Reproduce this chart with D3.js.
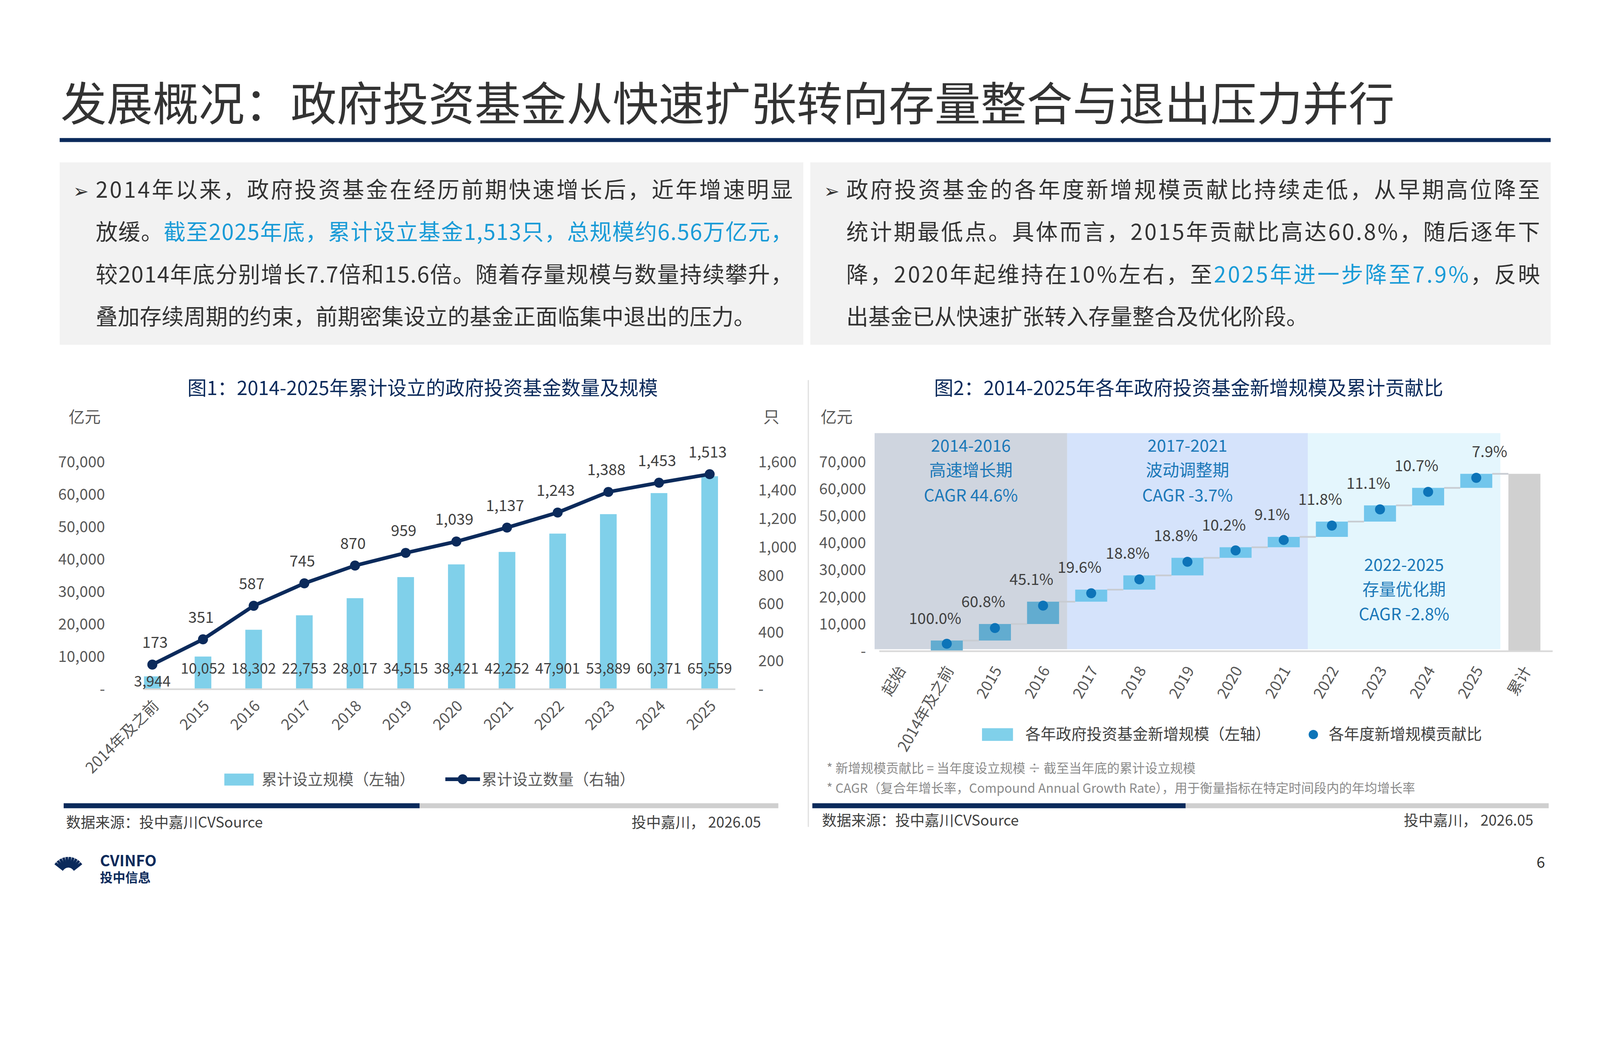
<!DOCTYPE html>
<html><head><meta charset="utf-8">
<script src="https://cdn.jsdelivr.net/npm/d3@7"></script>
<style>html,body{margin:0;background:#fff;overflow:hidden}svg{display:block;font-family:"Noto Sans CJK SC","Noto Sans",sans-serif}</style>
</head><body><div class="chart"></div>
<script>
// data
var years = ["2014年及之前","2015","2016","2017","2018","2019","2020","2021","2022","2023","2024","2025"];
var cumScale = [3944,10052,18302,22753,28017,34515,38421,42252,47901,53889,60371,65559];
var cumCount = [173,351,587,745,870,959,1039,1137,1243,1388,1453,1513];
var shareLabels = ["100.0%","60.8%","45.1%","19.6%","18.8%","18.8%","10.2%","9.1%","11.8%","11.1%","10.7%","7.9%"];
var leftTicks = [0,10000,20000,30000,40000,50000,60000,70000];
var rightTicks = [0,200,400,600,800,1000,1200,1400,1600];
var wfCats = ["起始"].concat(years).concat(["累计"]);
var phases = [
  {from:"起始", to:"2016", lines:["2014-2016","高速增长期","CAGR 44.6%"], fill:"#cfd5df", top:true},
  {from:"2017", to:"2021", lines:["2017-2021","波动调整期","CAGR -3.7%"], fill:"#d5e3fb", top:true},
  {from:"2022", to:"2025", lines:["2022-2025","存量优化期","CAGR -2.8%"], fill:"#e4f6fd", top:false}
];

var W = 4800, H = 2700;
var navy = "#0b2a5b", blue = "#1a9bd7", barC = "#80d0ea", grey = "#595959";
var svg = d3.select(".chart").append("svg").attr("width", "100vw").attr("height", "100vh")
  .attr("viewBox", "0 0 " + W + " " + H).attr("preserveAspectRatio", "xMidYMin meet");
var fmt = d3.format(",");

// header
svg.append("text").attr("x", 182).attr("y", 362).style("font-size", "138px").attr("fill", "#333")
  .text("发展概况：政府投资基金从快速扩张转向存量整合与退出压力并行");
svg.append("rect").attr("x", 179).attr("y", 414).attr("width", 4473).attr("height", 12).attr("fill", navy);

// text boxes
function box(x, w, lines) {
  svg.append("rect").attr("x", x).attr("y", 487).attr("width", w).attr("height", 547).attr("fill", "#f2f2f2");
  lines.forEach(function (ln, i) {
    var t = svg.append("text").attr("y", 593 + i * 127).style("font-size", "66px").attr("fill", "#333");
    if (i === 0) {
      svg.append("text").attr("x", x + 40).attr("y", 593).style("font-size", "56px").attr("fill", "#333").text("➢");
    }
    t.attr("x", x + 108);
    if (ln.full) t.attr("textLength", w - 140).attr("lengthAdjust", "spacing");
    ln.parts.forEach(function (p) {
      t.append("tspan").attr("fill", p[1] ? blue : "#333").text(p[0]);
    });
  });
}
box(179, 2231, [
  {full:true, parts:[["2014年以来，政府投资基金在经历前期快速增长后，近年增速明显"]]},
  {full:true, parts:[["放缓。"],["截至2025年底，累计设立基金1,513只，总规模约6.56万亿元，",1]]},
  {full:true, parts:[["较2014年底分别增长7.7倍和15.6倍。随着存量规模与数量持续攀升，"]]},
  {full:false, parts:[["叠加存续周期的约束，前期密集设立的基金正面临集中退出的压力。"]]}
]);
box(2431, 2221, [
  {full:true, parts:[["政府投资基金的各年度新增规模贡献比持续走低，从早期高位降至"]]},
  {full:true, parts:[["统计期最低点。具体而言，2015年贡献比高达60.8%，随后逐年下"]]},
  {full:true, parts:[["降，2020年起维持在10%左右，至"],["2025年进一步降至7.9%",1],["，反映"]]},
  {full:false, parts:[["出基金已从快速扩张转入存量整合及优化阶段。"]]}
]);

// ---------- chart 1 ----------
var y1 = d3.scaleLinear().domain([0, 70000]).range([2067, 1385]);
var yR = d3.scaleLinear().domain([0, 1600]).range([2067, 1385]);
var x1 = d3.scalePoint().domain(years).range([457, 2129]);
var g1 = svg.append("g");
g1.append("text").attr("x", 1268).attr("y", 1185).attr("text-anchor", "middle").style("font-size", "58px").attr("fill", navy)
  .text("图1：2014-2025年累计设立的政府投资基金数量及规模");
g1.append("text").attr("x", 206).attr("y", 1268).style("font-size", "48px").attr("fill", grey).text("亿元");
g1.append("text").attr("x", 2290).attr("y", 1268).style("font-size", "48px").attr("fill", grey).text("只");
g1.append("g").selectAll("text").data(leftTicks).enter().append("text")
  .attr("x", 315).attr("y", function (d) { return y1(d) + 16; }).attr("text-anchor", "end")
  .style("font-size", "46px").attr("fill", grey).text(function (d) { return d ? fmt(d) : "-"; });
g1.append("g").selectAll("text").data(rightTicks).enter().append("text")
  .attr("x", 2275).attr("y", function (d) { return yR(d) + 16; })
  .style("font-size", "46px").attr("fill", grey).text(function (d) { return d ? fmt(d) : "-"; });
g1.selectAll(".bar").data(cumScale).enter().append("rect")
  .attr("x", function (d, i) { return x1(years[i]) - 25; }).attr("width", 50)
  .attr("y", function (d) { return y1(d); }).attr("height", function (d) { return y1(0) - y1(d); })
  .attr("fill", barC);
g1.append("line").attr("x1", 432).attr("x2", 2206).attr("y1", 2067).attr("y2", 2067).attr("stroke", "#d9d9d9").attr("stroke-width", 5);
g1.selectAll(".bl").data(cumScale).enter().append("text")
  .attr("x", function (d, i) { return x1(years[i]); })
  .attr("y", function (d, i) { return i === 0 ? y1(2500) + 16 : y1(6400) + 16; })
  .attr("text-anchor", "middle").style("font-size", "44px").attr("fill", "#404040").text(fmt);
var line = d3.line().x(function (d, i) { return x1(years[i]); }).y(function (d) { return yR(d); });
g1.append("path").datum(cumCount).attr("d", line).attr("fill", "none").attr("stroke", navy).attr("stroke-width", 11);
g1.selectAll(".dot").data(cumCount).enter().append("circle")
  .attr("cx", function (d, i) { return x1(years[i]); }).attr("cy", function (d) { return yR(d); })
  .attr("r", 15).attr("fill", navy);
g1.selectAll(".cl").data(cumCount).enter().append("text")
  .attr("x", function (d, i) { return x1(years[i]) + (i === 0 ? 8 : -6); }).attr("y", function (d) { return yR(d) - 50; })
  .attr("text-anchor", "middle").style("font-size", "46px").attr("fill", "#404040").text(fmt);
g1.selectAll(".xl").data(years).enter().append("text")
  .attr("transform", function (d) { return "translate(" + (x1(d) + 22) + ",2120) rotate(-45)"; })
  .attr("text-anchor", "end").style("font-size", "46px").attr("fill", grey).text(function (d) { return d; });
g1.append("rect").attr("x", 673).attr("y", 2320).attr("width", 88).attr("height", 36).attr("fill", barC);
g1.append("text").attr("x", 785).attr("y", 2354).style("font-size", "46px").attr("fill", grey).text("累计设立规模（左轴）");
g1.append("line").attr("x1", 1336).attr("x2", 1440).attr("y1", 2337).attr("y2", 2337).attr("stroke", navy).attr("stroke-width", 11);
g1.append("circle").attr("cx", 1388).attr("cy", 2337).attr("r", 15).attr("fill", navy);
g1.append("text").attr("x", 1445).attr("y", 2354).style("font-size", "46px").attr("fill", grey).text("累计设立数量（右轴）");
g1.append("rect").attr("x", 191).attr("y", 2409).attr("width", 1068).attr("height", 15).attr("fill", navy);
g1.append("rect").attr("x", 1259).attr("y", 2409).attr("width", 1076).attr("height", 15).attr("fill", "#cfcfcf");
g1.append("text").attr("x", 198).attr("y", 2482).style("font-size", "44px").attr("fill", "#404040").text("数据来源：投中嘉川CVSource");
g1.append("text").attr("x", 2283).attr("y", 2482).attr("text-anchor", "end").style("font-size", "44px").attr("fill", "#404040").text("投中嘉川， 2026.05");

svg.append("line").attr("x1", 2425).attr("x2", 2425).attr("y1", 1140).attr("y2", 2480).attr("stroke", "#e3e3e3").attr("stroke-width", 4);

// ---------- chart 2 ----------
var y2 = d3.scaleLinear().domain([0, 70000]).range([1953, 1385]);
var x2 = d3.scalePoint().domain(wfCats).range([2696, 2696 + 144.4 * 13]);
var bw = 96;
var g2 = svg.append("g");
g2.append("text").attr("x", 3566).attr("y", 1185).attr("text-anchor", "middle").style("font-size", "58px").attr("fill", navy)
  .text("图2：2014-2025年各年政府投资基金新增规模及累计贡献比");
g2.append("text").attr("x", 2462).attr("y", 1268).style("font-size", "48px").attr("fill", grey).text("亿元");
g2.append("g").selectAll("text").data(leftTicks).enter().append("text")
  .attr("x", 2598).attr("y", function (d) { return y2(d) + 16; }).attr("text-anchor", "end")
  .style("font-size", "46px").attr("fill", grey).text(function (d) { return d ? fmt(d) : "-"; });
phases.forEach(function (p, k) {
  var xa = x2(p.from) - 72.2;
  var xb = x2(p.to) + 72.2;
  g2.append("rect").attr("x", xa).attr("y", 1299).attr("width", xb - xa).attr("height", 1947 - 1299).attr("fill", p.fill);
  var ty = p.top ? 1355 : 1712;
  p.lines.forEach(function (s, j) {
    g2.append("text").attr("x", (xa + xb) / 2).attr("y", ty + j * 74).attr("text-anchor", "middle")
      .style("font-size", "50px").attr("fill", "#1b78b8").text(s);
  });
});
var prev = [0].concat(cumScale.slice(0, -1));
// connectors
g2.selectAll(".cn").data(cumScale).enter().append("line")
  .attr("x1", function (d, i) { return x2(years[i]) + bw / 2; })
  .attr("x2", function (d, i) { return x2(i < 11 ? years[i + 1] : "累计") - bw / 2; })
  .attr("y1", function (d) { return y2(d); }).attr("y2", function (d) { return y2(d); })
  .attr("stroke", "#c8ccd2").attr("stroke-width", 5);
g2.selectAll(".wb").data(cumScale).enter().append("rect")
  .attr("x", function (d, i) { return x2(years[i]) - bw / 2; }).attr("width", bw)
  .attr("y", function (d) { return y2(d); }).attr("height", function (d, i) { return y2(prev[i]) - y2(d); })
  .attr("fill", function (d, i) { return i < 3 ? "#62acd0" : "#72c6ec"; });
g2.append("rect").attr("x", x2("累计") - bw / 2).attr("width", bw)
  .attr("y", y2(cumScale[11])).attr("height", y2(0) - y2(cumScale[11])).attr("fill", "#d0d0d0");
g2.append("line").attr("x1", 2638).attr("x2", 4658).attr("y1", 1953).attr("y2", 1953).attr("stroke", "#d9d9d9").attr("stroke-width", 5);
g2.selectAll(".wd").data(cumScale).enter().append("circle")
  .attr("cx", function (d, i) { return x2(years[i]); }).attr("cy", function (d, i) { return y2(d) + Math.min(12, (y2(prev[i]) - y2(d)) * 0.3); })
  .attr("r", 15).attr("fill", "#0d74b8");
g2.selectAll(".wl").data(shareLabels).enter().append("text")
  .attr("x", function (d, i) { return x2(years[i]) - (i < 11 ? 35 : -40); })
  .attr("y", function (d, i) { return y2(cumScale[i]) - 50; })
  .attr("text-anchor", "middle").style("font-size", "46px").attr("fill", "#404040").text(function (d) { return d; });
g2.selectAll(".xl").data(wfCats).enter().append("text")
  .attr("transform", function (d) { return "translate(" + (x2(d) + 22) + ",2010) rotate(-60)"; })
  .attr("text-anchor", "end").style("font-size", "46px").attr("fill", grey).text(function (d) { return d; });
g2.append("rect").attr("x", 2946).attr("y", 2184).attr("width", 93).attr("height", 38).attr("fill", barC);
g2.append("text").attr("x", 3076).attr("y", 2218).style("font-size", "46px").attr("fill", "#404040").text("各年政府投资基金新增规模（左轴）");
g2.append("circle").attr("cx", 3940).attr("cy", 2203).attr("r", 14).attr("fill", "#0d74b8");
g2.append("text").attr("x", 3986).attr("y", 2218).style("font-size", "46px").attr("fill", "#404040").text("各年度新增规模贡献比");
g2.append("text").attr("x", 2480).attr("y", 2318).style("font-size", "38px").attr("fill", "#8a8a8a").text("* 新增规模贡献比 = 当年度设立规模 ÷ 截至当年底的累计设立规模");
g2.append("text").attr("x", 2480).attr("y", 2378).style("font-size", "38px").attr("fill", "#8a8a8a").text("* CAGR（复合年增长率，Compound Annual Growth Rate），用于衡量指标在特定时间段内的年均增长率");
g2.append("rect").attr("x", 2437).attr("y", 2409).attr("width", 1120).attr("height", 15).attr("fill", navy);
g2.append("rect").attr("x", 3557).attr("y", 2409).attr("width", 1089).attr("height", 15).attr("fill", "#cfcfcf");
g2.append("text").attr("x", 2466).attr("y", 2476).style("font-size", "44px").attr("fill", "#404040").text("数据来源：投中嘉川CVSource");
g2.append("text").attr("x", 4600).attr("y", 2476).attr("text-anchor", "end").style("font-size", "44px").attr("fill", "#404040").text("投中嘉川， 2026.05");

// footer
var lg = svg.append("g").attr("transform", "translate(185,2590)");
d3.range(10).forEach(function (k) {
  var a = -Math.PI / 2 - 0.9 + k * 0.2;
  lg.append("line").attr("x1", 20 + Math.cos(a) * 18).attr("y1", 30 + Math.sin(a) * 18)
    .attr("x2", 20 + Math.cos(a) * 50).attr("y2", 30 + Math.sin(a) * 50)
    .attr("stroke", navy).attr("stroke-width", 8);
});
lg.append("text").attr("x", 115).attr("y", 8).style("font-size", "46px").style("font-weight", "bold").attr("fill", navy).text("CVINFO");
lg.append("text").attr("x", 115).attr("y", 56).style("font-size", "38px").style("font-weight", "bold").attr("fill", navy).text("投中信息");
svg.append("text").attr("x", 4635).attr("y", 2603).attr("text-anchor", "end").style("font-size", "46px").attr("fill", "#333").text("6");
</script></body></html>
